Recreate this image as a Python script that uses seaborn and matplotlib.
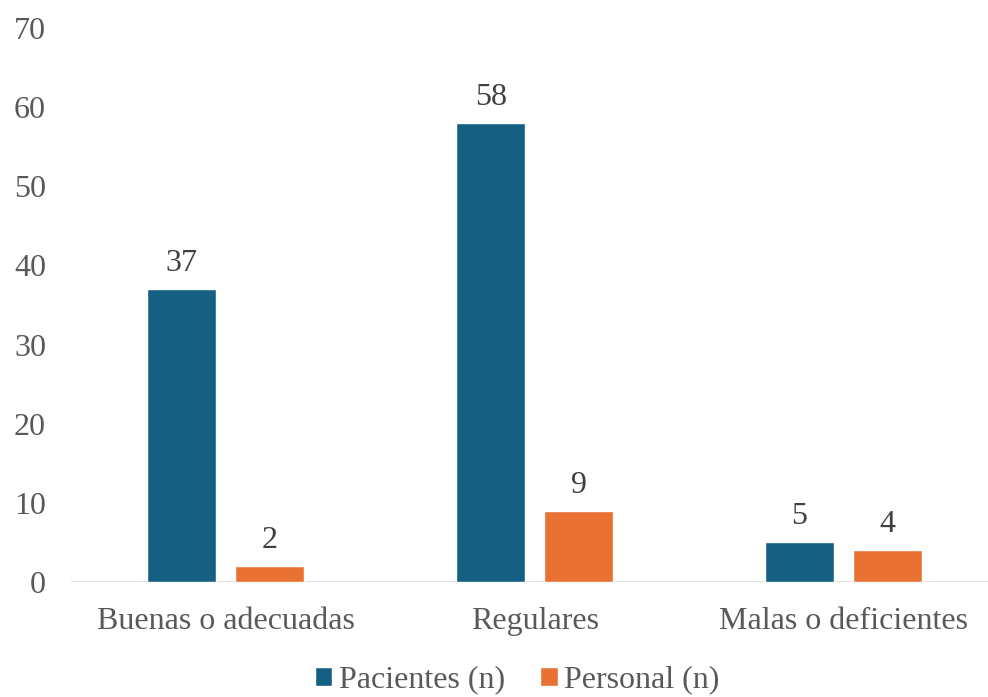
import matplotlib
matplotlib.use("Agg")
import matplotlib.pyplot as plt
import seaborn as sns
import pandas as pd

categories = ["Buenas o adecuadas", "Regulares", "Malas o deficientes"]
series_names = ["Pacientes (n)", "Personal (n)"]
pacientes = [37, 58, 5]
personal = [2, 9, 4]
y_ticks = [0, 10, 20, 30, 40, 50, 60, 70]

df = pd.DataFrame({
    "cat": categories * 2,
    "serie": [series_names[0]] * 3 + [series_names[1]] * 3,
    "val": pacientes + personal,
})

sns.set_theme(style="white")
plt.rcParams["font.family"] = ["Liberation Serif", "DejaVu Serif"]

FS = 23
fig = plt.figure(figsize=(9.88, 6.97), dpi=100)
ax = fig.add_axes([71/988, (697-582)/697, (988-71)/988, (582-28)/697])

palette = {series_names[0]: "#156082", series_names[1]: "#E97132"}
sns.barplot(data=df, x="cat", y="val", hue="serie", order=categories,
            hue_order=series_names, palette=palette, width=0.57, gap=0.217,
            saturation=1, ax=ax, legend=True)

for c in ax.containers:
    ax.bar_label(c, fmt="%d", padding=8, fontsize=FS, color="#404040")

ax.set_ylim(0, 70)
ax.set_xlim(-0.5016, 2.468)
ax.set_yticks(y_ticks)
ax.set_xlabel("")
ax.set_ylabel("")
for s in ax.spines.values():
    s.set_visible(False)
ax.axhline(0, color="#D9D9D9", lw=1.2, zorder=0)
ax.tick_params(axis="y", length=0, pad=18, labelsize=FS, labelcolor="#595959")
ax.tick_params(axis="x", length=0, pad=18, labelsize=FS, labelcolor="#595959")
ax.grid(False)

leg = ax.legend(loc="center", ncol=2, frameon=False, fontsize=FS,
                handlelength=0.55, handleheight=0.55, handletextpad=0.2,
                columnspacing=1.1, labelcolor="#595959")
leg.set_bbox_to_anchor((517/988, 1 - 680/697), transform=fig.transFigure)

fig.savefig("out.png", dpi=100)
